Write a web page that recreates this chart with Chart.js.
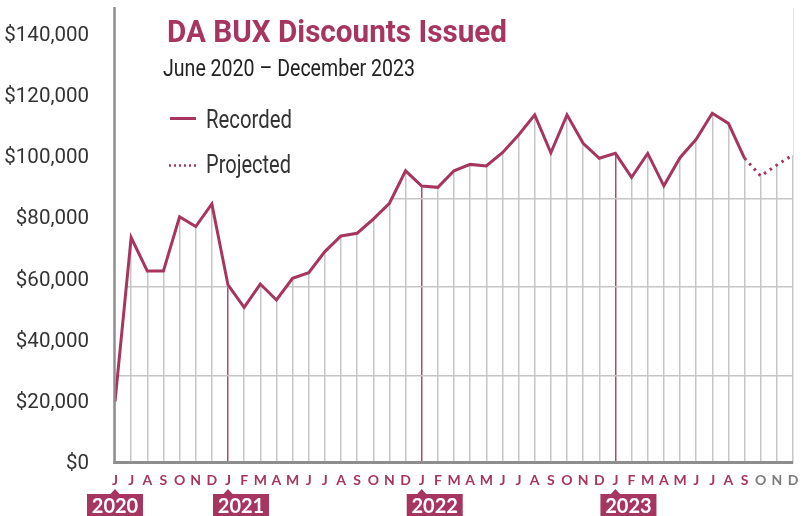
<!DOCTYPE html>
<html>
<head>
<meta charset="utf-8">
<script src="https://cdn.jsdelivr.net/npm/chart.js@4.4.1/dist/chart.umd.min.js"></script>
<style>
  html, body { margin: 0; padding: 0; background: #fff; }
</style>
</head>
<body>
<canvas id="buxLinha" width="809" height="516"></canvas>
<script>
// month letters, June 2020 .. December 2023
const meses = [
  'J','J','A','S','O','N','D',
  'J','F','M','A','M','J','J','A','S','O','N','D',
  'J','F','M','A','M','J','J','A','S','O','N','D',
  'J','F','M','A','M','J','J','A','S','O','N','D'
];
const anos = ['2020', '2021', '2022', '2023'];

// recorded values, June 2020 .. September 2023
const registrado = [
  20400, 74000, 63100, 63100, 80800, 77600, 85000,
  58500, 51200, 58800, 53600, 60700, 62500, 69400, 74500, 75400, 80000, 85200, 95800,
  90800, 90400, 95800, 97900, 97400, 101700, 107500, 114100, 101700, 114100, 104800, 99900,
  101500, 93700, 101500, 90900, 100100, 106100, 114600, 111300, 99900
];
// projected values, September .. December 2023
const projetado = [99900, 94100, 97700, 101000];

const yTicks = [0, 20000, 40000, 60000, 80000, 100000, 120000, 140000];
const linhasGrade = [28900, 57800, 86700, 115600];

const vinho = '#a6365f';
const cinza = '#c6c6c6';
const fonte = "Roboto, 'Liberation Sans', sans-serif";

const nInicioProj = registrado.length - 1;
const dadosReg = registrado.concat(Array(meses.length - registrado.length).fill(null));
const dadosProj = Array(nInicioProj).fill(null).concat(projetado);
const dadosTudo = registrado.concat(projetado.slice(1));

function ehJaneiro(i) { return (i + 5) % 12 === 0; }

// condensed-looking text: squeeze the run to the wanted width
function texto(ctx, s, x, y, largura) {
  const w = ctx.measureText(s).width;
  ctx.save();
  ctx.translate(x, y);
  ctx.scale(largura / w, 1);
  ctx.fillText(s, 0, 0);
  ctx.restore();
}

// title, subtitle, legend, axis lines and year badges
const extras = {
  id: 'extras',
  afterDatasetsDraw(chart) {
    const ctx = chart.ctx, a = chart.chartArea;
    ctx.save();
    ctx.strokeStyle = '#8e8e8e';
    ctx.lineWidth = 2.5;
    ctx.beginPath();
    ctx.moveTo(a.left - 0.5, 7);
    ctx.lineTo(a.left - 0.5, a.bottom);
    ctx.stroke();
    ctx.lineWidth = 3;
    ctx.beginPath();
    ctx.moveTo(a.left - 1.5, a.bottom - 1.5);
    ctx.lineTo(a.right, a.bottom - 1.5);
    ctx.stroke();
    ctx.restore();
  },
  afterDraw(chart) {
    const ctx = chart.ctx, x = chart.scales.x;
    ctx.save();
    ctx.textBaseline = 'alphabetic';
    ctx.textAlign = 'left';
    ctx.fillStyle = vinho;
    ctx.font = 'bold 32px ' + fonte;
    texto(ctx, 'DA BUX Discounts Issued', 167, 42, 340);
    ctx.fillStyle = '#222';
    ctx.font = '23px ' + fonte;
    texto(ctx, 'June 2020 – December 2023', 163, 76, 252);

    ctx.font = '25px ' + fonte;
    ctx.fillStyle = '#333';
    texto(ctx, 'Recorded', 206, 128, 86);
    texto(ctx, 'Projected', 206, 173, 85);
    ctx.strokeStyle = vinho;
    ctx.lineWidth = 3;
    ctx.beginPath();
    ctx.moveTo(170, 118.5);
    ctx.lineTo(196, 118.5);
    ctx.stroke();
    ctx.lineWidth = 2.5;
    ctx.setLineDash([2, 3]);
    ctx.beginPath();
    ctx.moveTo(169, 165.5);
    ctx.lineTo(199, 165.5);
    ctx.stroke();
    ctx.setLineDash([]);

    // year badges under each January
    let k = 0;
    meses.forEach((m, i) => {
      if (i !== 0 && !ehJaneiro(i)) return;
      const px = x.getPixelForValue(i);
      const esq = k === 0 ? px - 28 : px - 15;
      ctx.fillStyle = vinho;
      ctx.fillRect(esq, 494, 56, 24);
      ctx.beginPath();
      ctx.moveTo(px - 5, 494.5);
      ctx.lineTo(px, 489);
      ctx.lineTo(px + 5, 494.5);
      ctx.closePath();
      ctx.fill();
      ctx.fillStyle = '#fff';
      ctx.textAlign = 'center';
      ctx.font = 'bold 20px Lato, sans-serif';
      ctx.fillText(anos[k], esq + 28, 513);
      k++;
    });
    ctx.restore();
  }
};

new Chart(document.getElementById('buxLinha'), {
  type: 'line',
  data: {
    labels: meses,
    datasets: [{
      label: 'Recorded',
      data: dadosReg,
      borderColor: vinho,
      borderWidth: 3,
      fill: false,
      pointRadius: 0,
      tension: 0,
      order: 0
    }, {
      label: 'Projected',
      data: dadosProj,
      borderColor: vinho,
      borderWidth: 3,
      borderDash: [2.5, 4.5],
      fill: false,
      pointRadius: 0,
      tension: 0,
      order: 1
    }, {
      // white cover above the line, so the drop lines stop at it
      label: 'cover',
      data: dadosTudo,
      borderWidth: 0,
      borderColor: 'rgba(0,0,0,0)',
      backgroundColor: '#fff',
      fill: 'end',
      pointRadius: 0,
      tension: 0,
      order: 2
    }]
  },
  options: {
    responsive: false,
    animation: false,
    devicePixelRatio: 1,
    layout: { padding: { top: 8, right: 16, bottom: 0, left: 0 } },
    plugins: {
      legend: { display: false },
      title: { display: false },
      tooltip: { enabled: false }
    },
    scales: {
      x: {
        type: 'category',
        offset: false,
        border: { display: false },
        grid: {
          drawTicks: false,
          color: ctx => ehJaneiro(ctx.index) ? '#b04a72' : cinza,
          lineWidth: 1.5
        },
        ticks: {
          autoSkip: false,
          maxRotation: 0,
          padding: 8,
          color: ctx => ctx.index > nInicioProj ? '#7c7c7c' : vinho,
          font: { family: 'Lato', weight: 'bold', size: 14 }
        },
        afterFit: s => { s.height = 52; s.paddingLeft = 0; s.paddingRight = 0; }
      },
      y: {
        position: 'left',
        min: 0,
        max: 149000,
        afterBuildTicks: s => { s.ticks = yTicks.map(v => ({ value: v })); },
        border: { display: false },
        grid: { display: false },
        ticks: {
          padding: 18,
          color: '#333',
          font: { family: fonte, size: 20.5 },
          callback: v => '$' + v.toLocaleString('en-US')
        },
        afterFit: s => { s.width = 115; s.paddingTop = 0; s.paddingBottom = 0; }
      },
      y2: {
        position: 'left',
        min: 0,
        max: 149000,
        afterBuildTicks: s => { s.ticks = linhasGrade.map(v => ({ value: v })); },
        border: { display: false },
        grid: { color: cinza, lineWidth: 1.5, drawTicks: false },
        ticks: { display: false },
        afterFit: s => { s.width = 0; s.paddingTop = 0; s.paddingBottom = 0; }
      }
    }
  },
  plugins: [extras]
});
</script>
</body>
</html>
